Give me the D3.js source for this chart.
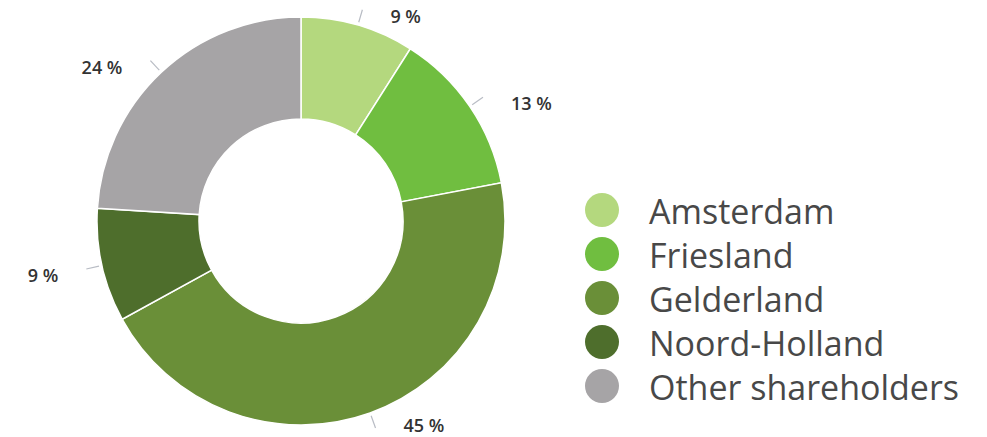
<!DOCTYPE html>
<html>
<head>
<meta charset="utf-8">
<script src="https://cdn.jsdelivr.net/npm/d3@7"></script>
<style>
  body { margin: 0; background: #fff; }
  svg { display: block; }
</style>
</head>
<body>
<svg width="987" height="437"></svg>
<script>
const categories = ['Amsterdam', 'Friesland', 'Gelderland', 'Noord-Holland', 'Other shareholders'];
const shares = [9, 13, 45, 9, 24];
const labels = ['9 %', '13 %', '45 %', '9 %', '24 %'];
const colors = ['#b4d87e', '#70be40', '#6a8f38', '#4e6e2c', '#a6a4a6'];

const svg = d3.select('svg');
const cx = 301, cy = 221, outer = 204, inner = 102;

const data = categories.map((c, i) => ({ name: c, value: shares[i], label: labels[i] }));

const pie = d3.pie().sort(null).value(d => d.value);
const arc = d3.arc().innerRadius(inner).outerRadius(outer);
const arcs = pie(data);

const color = d3.scaleOrdinal().domain(categories).range(colors);

const g = svg.append('g').attr('transform', `translate(${cx},${cy})`);

g.selectAll('path.slice')
  .data(arcs)
  .enter()
  .append('path')
  .attr('class', 'slice')
  .attr('d', arc)
  .attr('fill', d => color(d.data.name))
  .attr('stroke', '#fff')
  .attr('stroke-width', 1.5);

// leader lines and labels
const pt = (a, r) => [Math.sin(a) * r, -Math.cos(a) * r];

arcs.forEach(d => {
  const mid = (d.startAngle + d.endAngle) / 2;
  const p0 = pt(mid, 207);
  const p1 = pt(mid, 220);
  const right = Math.sin(mid) >= 0;
  g.append('line')
    .attr('x1', p0[0]).attr('y1', p0[1])
    .attr('x2', p1[0]).attr('y2', p1[1])
    .attr('stroke', '#b8bcc4')
    .attr('stroke-width', 1.2);
  g.append('text')
    .attr('x', p1[0] + (right ? 28 : -28))
    .attr('y', Math.min(p1[1] + 6, 437 - cy - 12))
    .attr('text-anchor', right ? 'start' : 'end')
    .attr('dominant-baseline', 'central')
    .attr('font-family', 'Open Sans, sans-serif')
    .attr('font-size', 18)
    .attr('font-weight', 600)
    .attr('fill', '#333')
    .text(d.data.label);
});

// legend
const legendY = d3.scalePoint().domain(categories).range([210, 386]);
const legend = svg.append('g');

legend.selectAll('circle')
  .data(categories)
  .enter()
  .append('circle')
  .attr('cx', 602)
  .attr('cy', d => legendY(d))
  .attr('r', 17)
  .attr('fill', d => color(d));

legend.selectAll('text')
  .data(categories)
  .enter()
  .append('text')
  .attr('x', 649)
  .attr('y', d => legendY(d) + 14)
  .attr('font-family', 'Open Sans, sans-serif')
  .attr('font-size', 34)
  .attr('fill', '#484848')
  .text(d => d);
</script>
</body>
</html>
